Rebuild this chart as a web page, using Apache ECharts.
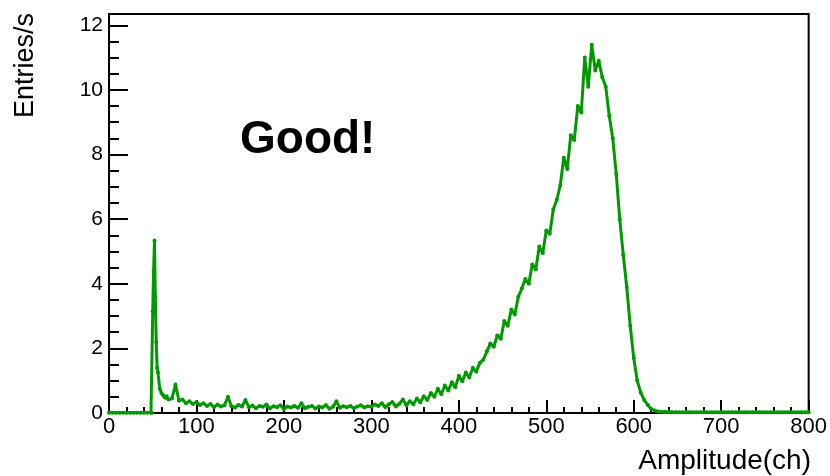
<!DOCTYPE html>
<html>
<head>
<meta charset="utf-8">
<script src="https://cdn.jsdelivr.net/npm/echarts@6/dist/echarts.min.js"></script>
<style>
  html, body { margin: 0; padding: 0; background: #fff; }
  #main { width: 830px; height: 476px; }
</style>
</head>
<body>
<div id="main"></div>
<script>
// below threshold: empty channels
var pedCh = [0, 4, 8, 12, 16, 20, 24, 28, 32, 36, 40, 44, 48, 49];
var pedRate = [0.01, 0.01, 0.01, 0.01, 0.01, 0.01, 0.01, 0.01, 0.01, 0.01, 0.01, 0.01, 0.01, 0.01];

// threshold spike, read channel by channel
var spikeCh = [50, 51, 52, 53, 54, 55, 56, 58, 60, 62, 64, 66, 68];
var spikeRate = [3.15, 4.4, 5.34, 3.6, 2.2, 1.4, 1.25, 0.75, 0.62, 0.55, 0.48, 0.52, 0.42];

// main spectrum, 4-channel steps from 72 to 800
var binStart = 72;
var binStep = 4;
var specRate = [
  0.45, 0.88, 0.38, 0.42, 0.30, 0.36, 0.28, 0.34, 0.25, 0.30,   // 72-108
  0.22, 0.28, 0.18, 0.26, 0.20, 0.24, 0.50, 0.21, 0.17, 0.25,   // 112-148
  0.20, 0.40, 0.18, 0.23, 0.15, 0.22, 0.19, 0.26, 0.14, 0.21,   // 152-188
  0.18, 0.24, 0.12, 0.20, 0.17, 0.22, 0.16, 0.30, 0.15, 0.19,   // 192-228
  0.22, 0.14, 0.20, 0.17, 0.25, 0.13, 0.19, 0.36, 0.16, 0.21,   // 232-268
  0.18, 0.22, 0.15, 0.20, 0.24, 0.17, 0.21, 0.19, 0.26, 0.22,   // 272-308
  0.30, 0.18, 0.27, 0.34, 0.20, 0.29, 0.42, 0.24, 0.36, 0.27,   // 312-348
  0.45, 0.33, 0.52, 0.40, 0.62, 0.50, 0.75, 0.58, 0.85, 0.70,   // 352-388
  0.95, 0.80, 1.15, 0.98, 1.25, 1.10, 1.40, 1.28, 1.55, 1.65,   // 392-428
  1.90, 2.15, 2.05, 2.40, 2.30, 2.85, 2.70, 3.20, 3.05, 3.60,   // 432-468
  3.85, 4.15, 4.00, 4.60, 4.45, 5.15, 4.95, 5.65, 5.55, 6.30,   // 472-508
  6.60, 7.05, 7.90, 7.55, 8.60, 8.45, 9.50, 9.30, 11.00, 10.10, // 512-548
  11.40, 10.60, 10.90, 10.40, 10.10, 9.20, 8.50, 7.40, 6.00, 4.90, // 552-588
  3.90, 2.70, 1.70, 1.00, 0.63, 0.40, 0.25, 0.12, 0.08, 0.05,   // 592-628
  0.04, 0.03, 0.03, 0.02, 0.02, 0.02, 0.02, 0.02, 0.02, 0.02,   // 632-668
  0.02, 0.02, 0.02, 0.02, 0.02, 0.02, 0.02, 0.02, 0.02, 0.02,   // 672-708
  0.02, 0.02, 0.02, 0.02, 0.02, 0.02, 0.02, 0.02, 0.02, 0.02,   // 712-748
  0.02, 0.02, 0.02, 0.02, 0.02, 0.02, 0.02, 0.02, 0.02, 0.02,   // 752-788
  0.02, 0.02, 0.02                                              // 792-800
];

var points = [];
pedCh.forEach(function (c, i) { points.push([c, pedRate[i]]); });
spikeCh.forEach(function (c, i) { points.push([c, spikeRate[i]]); });
specRate.forEach(function (r, i) { points.push([binStart + i * binStep, r]); });

var green = '#009a00';
var font = '"Liberation Sans", Arial, sans-serif';

var chart = echarts.init(document.getElementById('main'));

var option = {
    animation: false,
    grid: {
        left: 109,
        right: 19,
        top: 14,
        bottom: 63,
        show: true,
        borderColor: '#000',
        borderWidth: 2
    },
    xAxis: {
        type: 'value',
        min: 0,
        max: 800,
        interval: 100,
        axisLine: { show: true, lineStyle: { color: '#000', width: 2 } },
        axisTick: { show: true, inside: true, length: 13, lineStyle: { color: '#000', width: 2 } },
        minorTick: { show: true, splitNumber: 5, length: 6, lineStyle: { color: '#000', width: 2 } },
        splitLine: { show: false },
        axisLabel: { color: '#000', fontSize: 22, fontFamily: font, margin: 3 }
    },
    yAxis: {
        type: 'value',
        min: 0,
        max: 12.35,
        interval: 2,
        axisLine: { show: true, lineStyle: { color: '#000', width: 2 } },
        axisTick: { show: true, inside: true, length: 19, lineStyle: { color: '#000', width: 2 } },
        minorTick: { show: true, splitNumber: 4, length: 10, lineStyle: { color: '#000', width: 2 } },
        splitLine: { show: false },
        axisLabel: { color: '#000', fontSize: 21, fontFamily: font, margin: 6 }
    },
    graphic: [
        {
            type: 'text',
            left: 240,
            top: 117,
            style: { text: 'Good!', fill: '#000', font: 'bold 46px ' + font }
        },
        {
            type: 'text',
            x: 811,
            y: 475,
            style: { text: 'Amplitude(ch)', fill: '#000', font: '28px ' + font, textAlign: 'right', textVerticalAlign: 'bottom' }
        },
        {
            type: 'text',
            x: 39,
            y: 13,
            rotation: Math.PI / 2,
            style: { text: 'Entries/s', fill: '#000', font: '27px ' + font, textAlign: 'right', textVerticalAlign: 'bottom' }
        }
    ],
    series: [
        {
            type: 'line',
            data: points,
            symbol: 'circle',
            symbolSize: 4,
            showSymbol: true,
            showAllSymbol: true,
            itemStyle: { color: green },
            lineStyle: { color: green, width: 3 },
            z: 1
        }
    ]
};

chart.setOption(option);
</script>
</body>
</html>
